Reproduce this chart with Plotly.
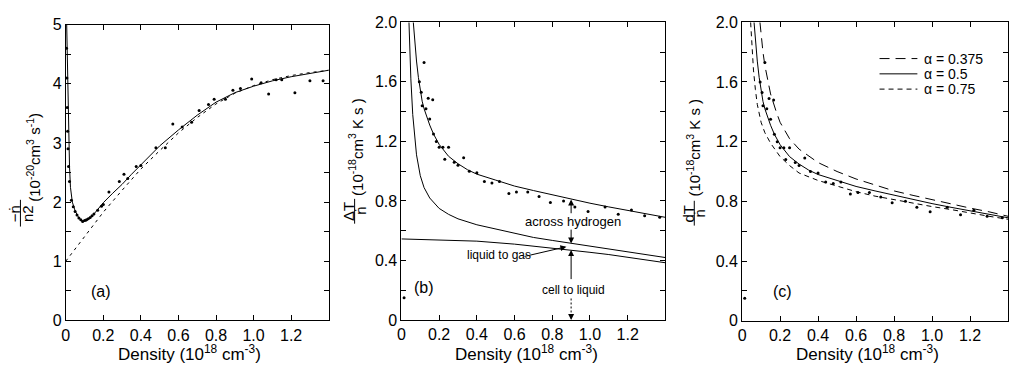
import numpy as np
import plotly.graph_objects as go

W, H = 1016, 372
FONT = "Liberation Sans, Arial, DejaVu Sans, sans-serif"

# ---------------- data ----------------
# panel (a): -ndot/n^2 vs density
a_solid_x = [0.005, 0.01, 0.015, 0.02, 0.025, 0.035, 0.05, 0.07, 0.09, 0.11, 0.14, 0.17, 0.2,
             0.25, 0.3, 0.35, 0.4, 0.45, 0.5, 0.6, 0.7, 0.8, 0.9, 1.0, 1.1, 1.2, 1.3, 1.4]
a_solid_y = [5.0, 4.0, 3.2, 2.6, 2.25, 2.0, 1.85, 1.73, 1.68, 1.68, 1.76, 1.87, 1.99,
             2.15, 2.3, 2.47, 2.63, 2.8, 2.95, 3.22, 3.47, 3.69, 3.85, 3.96, 4.05, 4.12, 4.18, 4.23]
a_dash_x = [0.0, 0.1, 0.2, 0.3, 0.4, 0.5, 0.6, 0.7, 0.8, 0.9, 1.0, 1.1, 1.2, 1.3, 1.4]
a_dash_y = [1.0, 1.42, 1.83, 2.2, 2.56, 2.87, 3.17, 3.43, 3.66, 3.84, 3.97, 4.07, 4.14, 4.19, 4.23]
a_dots_x = [0.004, 0.006, 0.008, 0.01, 0.012, 0.015, 0.02, 0.03, 0.04, 0.05, 0.06, 0.07, 0.08,
            0.09, 0.1, 0.11, 0.12, 0.13, 0.14, 0.15, 0.17, 0.19, 0.2, 0.23, 0.285, 0.31, 0.33,
            0.375, 0.40, 0.48, 0.53, 0.57, 0.62, 0.67, 0.71, 0.76, 0.79, 0.85, 0.89, 0.93,
            0.99, 1.04, 1.08, 1.12, 1.15, 1.22, 1.30, 1.37]
a_dots_y = [4.6, 4.1, 3.6, 3.2, 2.9, 2.6, 2.35, 2.03, 1.92, 1.84, 1.78, 1.73, 1.7,
            1.67, 1.69, 1.7, 1.72, 1.74, 1.77, 1.8, 1.86, 1.93, 1.96, 2.17, 2.35, 2.47, 2.4,
            2.6, 2.62, 2.92, 2.92, 3.32, 3.27, 3.35, 3.55, 3.65, 3.74, 3.74, 3.89, 3.92,
            4.08, 4.02, 3.83, 4.07, 4.07, 3.85, 4.05, 4.05]

# panel (b): Delta T / ndot
b_upper_x = [0.063, 0.07, 0.08, 0.09, 0.10, 0.11, 0.12, 0.13, 0.15, 0.17, 0.2, 0.25, 0.3, 0.35,
             0.4, 0.5, 0.6, 0.7, 0.8, 0.9, 1.0, 1.1, 1.2, 1.3, 1.4]
b_upper_y = [2.0, 1.88, 1.74, 1.63, 1.54, 1.47, 1.42, 1.38, 1.31, 1.25, 1.18, 1.1, 1.05, 1.01,
             0.98, 0.94, 0.90, 0.87, 0.84, 0.81, 0.785, 0.76, 0.735, 0.71, 0.69]
b_mid_x = [0.04, 0.045, 0.05, 0.06, 0.07, 0.08, 0.1, 0.12, 0.15, 0.2, 0.25, 0.3, 0.4, 0.5,
           0.6, 0.7, 0.8, 0.9, 1.0, 1.1, 1.2, 1.3, 1.4]
b_mid_y = [2.0, 1.8, 1.62, 1.38, 1.22, 1.11, 0.97, 0.89, 0.82, 0.75, 0.71, 0.68, 0.64, 0.61,
           0.58, 0.555, 0.535, 0.515, 0.495, 0.475, 0.455, 0.435, 0.42]
b_low_x = [0.0, 0.2, 0.4, 0.6, 0.8, 0.9, 1.0, 1.1, 1.2, 1.3, 1.4]
b_low_y = [0.545, 0.54, 0.53, 0.51, 0.485, 0.47, 0.455, 0.44, 0.42, 0.405, 0.385]
dots_x = [0.014, 0.095, 0.105, 0.11, 0.12, 0.13, 0.142, 0.15, 0.166, 0.17, 0.185, 0.2, 0.22,
          0.23, 0.25, 0.28, 0.30, 0.33, 0.36, 0.40, 0.44, 0.48, 0.52, 0.57, 0.61, 0.67, 0.73,
          0.79, 0.86, 0.92, 0.99, 1.08, 1.15, 1.22, 1.29, 1.37]
dots_y = [0.15, 1.6, 1.53, 1.44, 1.73, 1.42, 1.49, 1.35, 1.48, 1.25, 1.2, 1.16, 1.16,
          1.08, 1.16, 1.06, 1.04, 1.09, 1.0, 0.99, 0.93, 0.92, 0.93, 0.85, 0.86, 0.86, 0.83,
          0.79, 0.80, 0.76, 0.73, 0.76, 0.71, 0.74, 0.70, 0.69]

# panel (c): dT/ndot for three alpha values
c375_x = [0.094, 0.10, 0.11, 0.12, 0.13, 0.15, 0.18, 0.2, 0.25, 0.3, 0.4, 0.5, 0.6, 0.7, 0.8,
          0.9, 1.0, 1.1, 1.2, 1.3, 1.4]
c375_y = [2.0, 1.92, 1.8, 1.71, 1.64, 1.52, 1.4, 1.33, 1.22, 1.15, 1.06, 1.0, 0.95, 0.91, 0.87,
          0.84, 0.81, 0.78, 0.755, 0.73, 0.70]
c050_x = b_upper_x
c050_y = b_upper_y
c075_x = [0.045, 0.05, 0.06, 0.07, 0.08, 0.1, 0.12, 0.15, 0.2, 0.25, 0.3, 0.4, 0.5, 0.6, 0.7,
          0.8, 0.9, 1.0, 1.1, 1.2, 1.3, 1.4]
c075_y = [2.0, 1.86, 1.68, 1.55, 1.45, 1.33, 1.26, 1.19, 1.1, 1.04, 0.99, 0.94, 0.90, 0.865,
          0.835, 0.81, 0.785, 0.765, 0.745, 0.72, 0.70, 0.68]
alpha_labels = ["α = 0.375", "α = 0.5", "α = 0.75"]

x_tickvals_ab = [0, 0.2, 0.4, 0.6, 0.8, 1.0, 1.2]
x_ticktext_ab = ["0", "0.2", "0.4", "0.6", "0.8", "1.0", "1.2"]
x_tickvals_c = [0, 0.2, 0.4, 0.6, 0.8, 1.0, 1.2, 1.4]
x_ticktext_c = ["0", "0.2", "0.4", "0.6", "0.8", "1.0", "1.2", "1.4"]
ya_tickvals = [0, 1, 2, 3, 4, 5]
ya_ticktext = ["0", "1", "2", "3", "4", "5"]
ybc_tickvals = [0, 0.4, 0.8, 1.2, 1.6, 2.0]
ybc_ticktext = ["0", "0.4", "0.8", "1.2", "1.6", "2.0"]

MARK_X = 0.9  # density where the decomposition arrows are drawn

# ---------------- helpers ----------------
def fx(p):
    return p / W

def fy(p):
    return 1 - p / H

BLACK = "black"
DOT = dict(color=BLACK, size=3, symbol="circle")

fig = go.Figure()

def add_line(x, y, xa, ya, dash="solid"):
    fig.add_trace(go.Scatter(x=x, y=y, mode="lines", line=dict(color=BLACK, width=1, dash=dash),
                             xaxis=xa, yaxis=ya, showlegend=False, hoverinfo="skip"))

def add_dots(x, y, xa, ya):
    fig.add_trace(go.Scatter(x=x, y=y, mode="markers", marker=DOT,
                             xaxis=xa, yaxis=ya, showlegend=False, hoverinfo="skip"))

# (a)
add_line(a_dash_x, a_dash_y, "x", "y", dash="3px,4px")
add_line(a_solid_x, a_solid_y, "x", "y")
add_dots(a_dots_x, a_dots_y, "x", "y")
# (b)
add_line(b_upper_x, b_upper_y, "x2", "y2")
add_line(b_mid_x, b_mid_y, "x2", "y2")
add_line(b_low_x, b_low_y, "x2", "y2")
add_dots(dots_x, dots_y, "x2", "y2")
# (c)
DASHES = ["10px,6px", "solid", "5px,4px"]
add_line(c375_x, c375_y, "x3", "y3", dash=DASHES[0])
add_line(c050_x, c050_y, "x3", "y3", dash=DASHES[1])
add_line(c075_x, c075_y, "x3", "y3", dash=DASHES[2])
add_dots(dots_x, dots_y, "x3", "y3")

def axis(**kw):
    d = dict(showline=True, linecolor=BLACK, linewidth=1, mirror="ticks", ticks="inside",
             ticklen=5, tickwidth=1, tickcolor=BLACK, showgrid=False, zeroline=False,
             tickfont=dict(family=FONT, size=16, color=BLACK), fixedrange=True,
             tickmode="array")
    d.update(kw)
    return d

minor_a = dict(ticks="inside", ticklen=5, tickcolor=BLACK, tickmode="array",
               tickvals=[0.5, 1.5, 2.5, 3.5, 4.5], showgrid=False)
minor_bc = dict(ticks="inside", ticklen=5, tickcolor=BLACK, tickmode="array",
                tickvals=[0.2, 0.6, 1.0, 1.4, 1.8], showgrid=False)

fig.update_layout(
    width=W, height=H, margin=dict(l=0, r=0, t=0, b=0),
    paper_bgcolor="white", plot_bgcolor="white", showlegend=False,
    font=dict(family=FONT, color=BLACK, size=15),
    xaxis=axis(domain=[fx(62), fx(326)], range=[0, 1.4], tickvals=x_tickvals_ab,
               ticktext=x_ticktext_ab, anchor="y"),
    yaxis=axis(domain=[fy(327.3), fy(17.5)], range=[0, 5], tickvals=ya_tickvals,
               ticktext=ya_ticktext, minor=minor_a, anchor="x"),
    xaxis2=axis(domain=[fx(399), fx(664)], range=[0, 1.4], tickvals=x_tickvals_ab,
                ticktext=x_ticktext_ab, anchor="y2"),
    yaxis2=axis(domain=[fy(327), fy(15)], range=[0, 2], tickvals=ybc_tickvals,
                ticktext=ybc_ticktext, minor=minor_bc, anchor="x2"),
    xaxis3=axis(domain=[fx(741), fx(1008)], range=[0, 1.4], tickvals=x_tickvals_c,
                ticktext=x_ticktext_c, anchor="y3"),
    yaxis3=axis(domain=[fy(327.7), fy(15)], range=[0, 2], tickvals=ybc_tickvals,
                ticktext=ybc_ticktext, minor=minor_bc, anchor="x3"),
)

ann = []
shapes = []

def ptext(text, x, y, size=15, angle=0, xanchor="center"):
    ann.append(dict(text=text, x=fx(x), y=fy(y), xref="paper", yref="paper",
                    xanchor=xanchor, yanchor="middle", showarrow=False, textangle=angle,
                    font=dict(family=FONT, size=size, color=BLACK)))

def vbar(x, y0, y1):
    shapes.append(dict(type="line", xref="paper", yref="paper", x0=fx(x), x1=fx(x),
                       y0=fy(y0), y1=fy(y1), line=dict(color=BLACK, width=1)))

# x-axis titles
xt = "Density (10<sup>18</sup> cm<sup>-3</sup>)"
ptext(xt, 186, 361, size=17)
ptext(xt, 525, 361, size=17)
ptext(xt, 867, 361, size=17)

# y-axis titles (rotated, with stacked fractions)
ptext("(10<sup>-20</sup>cm<sup>3</sup> s<sup>-1</sup>)", 30, 156, size=15, angle=-90)
ptext("−ṅ", 10, 215, size=15, angle=-90)
ptext("n2", 23, 215, size=15, angle=-90)
vbar(16.5, 201, 229)

ptext("(10<sup>-18</sup>cm<sup>3</sup> K s )", 353, 146, size=15, angle=-90)
ptext("ΔT", 346, 213, size=15, angle=-90)
ptext("ṅ", 358, 213, size=15, angle=-90)
vbar(352, 200, 226)

ptext("(10<sup>-18</sup>cm<sup>3</sup> K s )", 692, 146, size=15, angle=-90)
ptext("dT", 687, 215, size=15, angle=-90)
ptext("ṅ", 698, 215, size=15, angle=-90)
vbar(693, 202, 228)

# panel labels
ptext("(a)", 97, 297, size=16)
ptext("(b)", 422, 293, size=16)
ptext("(c)", 782, 297, size=16)

# legend for (c)
leg_y = [53, 69, 85]
for lab, d, yy in zip(alpha_labels, DASHES, leg_y):
    shapes.append(dict(type="line", xref="paper", yref="paper", x0=fx(879), x1=fx(917),
                       y0=fy(yy), y1=fy(yy), line=dict(color=BLACK, width=1, dash=d)))
    ptext(lab, 922, yy, size=14, xanchor="left")

# decomposition arrows in (b)
up_at = float(np.interp(MARK_X, b_upper_x, b_upper_y))
mid_at = float(np.interp(MARK_X, b_mid_x, b_mid_y))
low_at = float(np.interp(MARK_X, b_low_x, b_low_y))

def dtext(text, x, y, size=12):
    ann.append(dict(text=text, x=x, y=y, xref="x2", yref="y2", showarrow=False,
                    xanchor="center", yanchor="middle",
                    font=dict(family=FONT, size=size, color=BLACK)))

def arrow(x, y, ax, ay):
    ann.append(dict(text="", x=x, y=y, ax=ax, ay=ay, xref="x2", yref="y2", axref="x2",
                    ayref="y2", showarrow=True, arrowhead=2, arrowsize=1.2, arrowwidth=1,
                    arrowcolor=BLACK, standoff=0, startstandoff=0,
                    font=dict(family=FONT, size=12, color=BLACK)))

dtext("across hydrogen", 0.91, (up_at + mid_at) / 2, size=13)
arrow(MARK_X, up_at, MARK_X, (up_at + mid_at) / 2 + 0.045)
arrow(MARK_X, mid_at, MARK_X, (up_at + mid_at) / 2 - 0.045)

dtext("liquid to gas", 0.515, 0.435)
arrow(MARK_X - 0.025, (mid_at + low_at) / 2, 0.645, 0.425)

dtext("cell to liquid", 0.915, 0.205)
arrow(MARK_X, low_at, MARK_X, 0.265)
shapes.append(dict(type="line", xref="x2", yref="y2", x0=MARK_X, x1=MARK_X, y0=0.145,
                   y1=0.03, line=dict(color=BLACK, width=1, dash="2px,2px")))
arrow(MARK_X, 0.0, MARK_X, 0.05)

fig.update_layout(annotations=ann, shapes=shapes)

fig.write_html("out.html")
